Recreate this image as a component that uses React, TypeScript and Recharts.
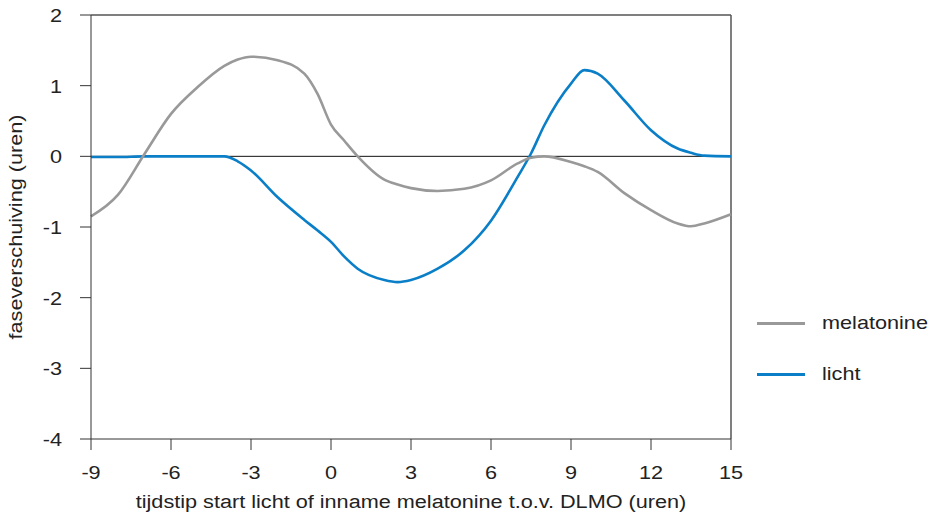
import React from "react";
import { LineChart, Line, XAxis, YAxis, ReferenceLine, Label } from "recharts";

const xValues = [-9, -8, -7, -6, -5, -4, -3.5, -3, -2, -1, -0.5, 0, 0.5, 1, 2, 2.5, 3, 4, 5, 6, 7, 7.5, 8, 9, 9.5, 10, 11, 12, 13, 13.5, 14, 15];
const melatonine = [-0.85, -0.55, 0.03, 0.6, 0.98, 1.28, 1.37, 1.41, 1.36, 1.17, 0.88, 0.45, 0.22, 0.0, -0.33, -0.4, -0.45, -0.49, -0.46, -0.34, -0.1, -0.02, 0.0, -0.08, -0.14, -0.22, -0.52, -0.76, -0.95, -0.99, -0.95, -0.82];
const licht = [-0.01, -0.01, 0, 0, 0, 0, -0.07, -0.2, -0.58, -0.9, -1.05, -1.21, -1.42, -1.59, -1.75, -1.78, -1.75, -1.59, -1.33, -0.91, -0.29, 0.04, 0.44, 1.03, 1.22, 1.17, 0.79, 0.37, 0.11, 0.05, 0.01, 0];

const xTicks = [-9, -6, -3, 0, 3, 6, 9, 12, 15];
const yTicks = [-4, -3, -2, -1, 0, 1, 2];

const xTitle = "tijdstip start licht of inname melatonine t.o.v. DLMO (uren)";
const yTitle = "faseverschuiving (uren)";
const seriesNames = { melatonine: "melatonine", licht: "licht" };
const colors = { melatonine: "#999999", licht: "#0a7fc8" };

const data = xValues.map((x, i) => ({ x, melatonine: melatonine[i], licht: licht[i] }));

const FONT = "'Liberation Sans', Arial, sans-serif";
const FS = 19;
const SX = 1.14;
const TEXT_COLOR = "#222";

function ScaledText({ x, y, anchor, rotate = 0, children }: { x: number; y: number; anchor: "start" | "middle" | "end"; rotate?: number; children: React.ReactNode }) {
  return (
    <text
      transform={`translate(${x},${y}) rotate(${rotate}) scale(${SX},1)`}
      x={0}
      y={0}
      textAnchor={anchor}
      fontFamily={FONT}
      fontSize={FS}
      fill={TEXT_COLOR}
    >
      {children}
    </text>
  );
}

function XTick(props: any) {
  const { x, y, payload } = props;
  return <ScaledText x={x} y={y + 0.71 * FS} anchor="middle">{payload.value}</ScaledText>;
}

function YTick(props: any) {
  const { x, y, payload } = props;
  return <ScaledText x={x} y={y + 0.36 * FS} anchor="end">{payload.value}</ScaledText>;
}

function XTitle(props: any) {
  const vb = props.viewBox;
  return <ScaledText x={vb.x + vb.width / 2} y={508} anchor="middle">{xTitle}</ScaledText>;
}

function YTitle(props: any) {
  const vb = props.viewBox;
  return <ScaledText x={22} y={vb.y + vb.height / 2} anchor="middle" rotate={-90}>{yTitle}</ScaledText>;
}

function LegendBox() {
  const items = [
    { key: "melatonine", top: 323 },
    { key: "licht", top: 374 },
  ] as const;
  return (
    <>
      {items.map((it) => (
        <div key={it.key} style={{ position: "absolute", left: 757, top: it.top - 13, height: 26, display: "flex", alignItems: "center", fontFamily: FONT, fontSize: FS, color: TEXT_COLOR, whiteSpace: "nowrap" }}>
          <div style={{ width: 48, height: 3, background: colors[it.key] }} />
          <span style={{ marginLeft: 17, display: "inline-block", transform: `scaleX(${SX})`, transformOrigin: "left center" }}>{seriesNames[it.key]}</span>
        </div>
      ))}
    </>
  );
}

export default function App() {
  return (
    <div style={{ position: "absolute", left: 0, top: 0, width: 929, height: 517, background: "#fff", overflow: "hidden" }}>
      <LineChart width={929} height={517} data={data} margin={{ top: 15, right: 198, bottom: 0, left: 0 }}>
        <XAxis
          dataKey="x"
          type="number"
          domain={[-9, 15]}
          ticks={xTicks}
          height={78}
          tickSize={11}
          tickMargin={16}
          stroke="#333"
          tick={<XTick />}
        >
          <Label content={<XTitle />} />
        </XAxis>
        <YAxis
          type="number"
          domain={[-4, 2]}
          ticks={yTicks}
          width={91}
          tickSize={11}
          tickMargin={18}
          stroke="#333"
          tick={<YTick />}
          interval={0}
        >
          <Label content={<YTitle />} />
        </YAxis>
        <ReferenceLine y={2} stroke="#555" strokeWidth={1.5} />
        <ReferenceLine x={15} stroke="#555" strokeWidth={1.5} />
        <ReferenceLine y={0} stroke="#111" strokeWidth={1} />
        <Line type="monotone" dataKey="licht" stroke={colors.licht} strokeWidth={2.6} dot={false} isAnimationActive={false} />
        <Line type="monotone" dataKey="melatonine" stroke={colors.melatonine} strokeWidth={2.6} dot={false} isAnimationActive={false} />
      </LineChart>
      <LegendBox />
    </div>
  );
}
